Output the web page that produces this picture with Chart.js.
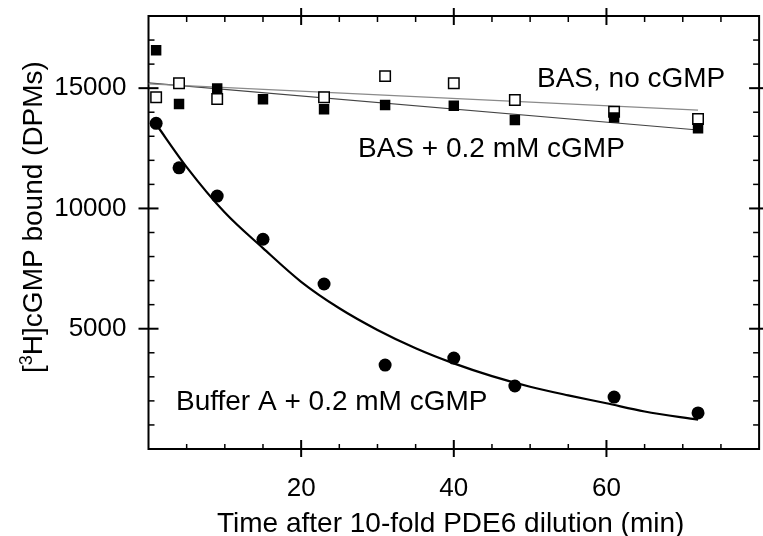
<!DOCTYPE html>
<html>
<head>
<meta charset="utf-8">
<script src="https://cdn.jsdelivr.net/npm/chart.js@4.4.0/dist/chart.umd.min.js"></script>
<style>
  html, body { margin: 0; padding: 0; background: #fff; overflow: hidden; }
  #wrap { width: 768px; height: 536px; }
</style>
</head>
<body>
<div id="wrap"><canvas id="c"></canvas></div>
<script>
// Sample times (min) for the measured points.
const timeMin = [1, 4, 9, 15, 23, 31, 40, 48, 61, 72];
// [3H]cGMP bound (DPMs).
const bufferA = [13540, 11690, 10515, 8720, 6860, 3490, 3780, 2620, 2160, 1500];
const basCgmp = [16580, 14340, 14990, 14535, 14120, 14300, 14270, 13675, 13785, 13330];
const basNoCgmp = [14620, 15200, 14550, null, 14620, 15500, 15200, 14505, 14020, 13715];

// Fitted decay curve for Buffer A.
const fitTime = [1, 5, 10, 15, 20, 25, 30, 35, 40, 45, 50, 55, 60, 65, 72];
const fitBufferA = [13500, 11720, 9830, 8350, 6950, 5850, 4950, 4190, 3560, 3030, 2590, 2230, 1900, 1560, 1220];

// Straight fits for the BAS series.
const lineTime = [0, 72];
const basNoCgmpFit = [15180, 14090];
const basCgmpFit = [15220, 13260];

const xTicks = [20, 40, 60];
const yTicks = [5000, 10000, 15000];

const FONT = '"Liberation Sans", Arial, Helvetica, sans-serif';
const pts = (xs, ys) => xs.map((x, i) => ({ x, y: ys[i] })).filter((p) => p.y !== null);

// Box frame with in/out ticks on all four sides, plus the text labels.
const framePlugin = {
  id: "frame",
  beforeDatasetsDraw(chart) {
    const { ctx, chartArea: a, scales: { x, y } } = chart;
    ctx.save();
    ctx.strokeStyle = "#000";
    ctx.lineWidth = 2;
    ctx.strokeRect(a.left, a.top, a.right - a.left, a.bottom - a.top);

    const line = (x1, y1, x2, y2, w) => {
      ctx.lineWidth = w;
      ctx.beginPath();
      ctx.moveTo(x1, y1);
      ctx.lineTo(x2, y2);
      ctx.stroke();
    };
    for (let v = 1000; v < 18000; v += 1000) {
      const py = y.getPixelForValue(v);
      if (yTicks.includes(v)) {
        line(a.left - 10, py, a.left + 10, py, 2);
        line(a.right - 10, py, a.right + 10, py, 2);
      } else {
        line(a.left, py, a.left + 6, py, 1.5);
        line(a.right - 6, py, a.right, py, 1.5);
      }
    }
    for (let v = 5; v < 80; v += 5) {
      const px = x.getPixelForValue(v);
      if (xTicks.includes(v)) {
        line(px, a.bottom - 9, px, a.bottom + 8, 2);
        line(px, a.top - 8, px, a.top + 9, 2);
      } else {
        line(px, a.bottom - 5, px, a.bottom, 1.5);
        line(px, a.top, px, a.top + 6, 1.5);
      }
    }
    ctx.restore();
  },
  afterDraw(chart) {
    const { ctx } = chart;
    ctx.save();
    ctx.fillStyle = "#000";
    ctx.textBaseline = "alphabetic";
    ctx.textAlign = "left";
    ctx.font = "28px " + FONT;
    ctx.fillText("BAS, no cGMP", 537, 87);
    ctx.fillText("BAS + 0.2 mM cGMP", 358, 157);
    ctx.fillText("Buffer A + 0.2 mM cGMP", 176, 410);
    ctx.fillText("Time after 10-fold PDE6 dilution (min)", 217, 532);

    // rotated y title with superscript 3
    const big = "28px " + FONT, small = "18px " + FONT;
    ctx.font = big;
    const w1 = ctx.measureText("[").width;
    const w3 = ctx.measureText("H]cGMP bound (DPMs)").width;
    ctx.font = small;
    const w2 = ctx.measureText("3").width;
    ctx.translate(42, 217);
    ctx.rotate(-Math.PI / 2);
    let cx = -(w1 + w2 + w3) / 2;
    ctx.font = big;
    ctx.fillText("[", cx, 0);
    cx += w1;
    ctx.font = small;
    ctx.fillText("3", cx, -10);
    cx += w2;
    ctx.font = big;
    ctx.fillText("H]cGMP bound (DPMs)", cx, 0);
    ctx.restore();
  },
};

new Chart(document.getElementById("c"), {
  type: "scatter",
  data: {
    datasets: [
      {
        label: "Buffer A + 0.2 mM cGMP",
        data: pts(timeMin, bufferA),
        pointStyle: "circle",
        pointRadius: 6.5,
        backgroundColor: "#000",
        borderColor: "#000",
        borderWidth: 0,
      },
      {
        label: "BAS + 0.2 mM cGMP",
        data: pts(timeMin, basCgmp),
        pointStyle: "rect",
        pointRadius: 7.4,
        backgroundColor: "#000",
        borderColor: "#000",
        borderWidth: 0,
      },
      {
        label: "BAS, no cGMP",
        data: pts(timeMin, basNoCgmp),
        pointStyle: "rect",
        pointRadius: 7.4,
        backgroundColor: "#fff",
        borderColor: "#000",
        borderWidth: 1.5,
      },
      {
        type: "line",
        label: "Buffer A fit",
        data: pts(fitTime, fitBufferA),
        borderColor: "#000",
        borderWidth: 2.2,
        pointRadius: 0,
        cubicInterpolationMode: "monotone",
        fill: false,
      },
      {
        type: "line",
        label: "BAS, no cGMP fit",
        data: pts(lineTime, basNoCgmpFit),
        borderColor: "#8a8a8a",
        borderWidth: 1.2,
        pointRadius: 0,
        fill: false,
      },
      {
        type: "line",
        label: "BAS + cGMP fit",
        data: pts(lineTime, basCgmpFit),
        borderColor: "#444",
        borderWidth: 1.2,
        pointRadius: 0,
        fill: false,
      },
    ],
  },
  options: {
    responsive: true,
    maintainAspectRatio: false,
    animation: false,
    layout: { padding: { top: 16, right: 2.5, bottom: 0, left: 0 } },
    plugins: { legend: { display: false }, tooltip: { enabled: false } },
    scales: {
      x: {
        type: "linear",
        min: 0,
        max: 80,
        afterBuildTicks: (s) => { s.ticks = xTicks.map((v) => ({ value: v })); },
        afterFit: (s) => { s.height = 87; s.paddingLeft = 0; s.paddingRight = 0; },
        grid: { display: false, drawTicks: false },
        border: { display: false },
        ticks: { padding: 24, color: "#000", font: { family: FONT, size: 26 } },
      },
      y: {
        type: "linear",
        min: 0,
        max: 18000,
        afterBuildTicks: (s) => { s.ticks = yTicks.map((v) => ({ value: v })); },
        afterFit: (s) => { s.width = 148.5; s.paddingTop = 0; s.paddingBottom = 0; },
        grid: { display: false, drawTicks: false },
        border: { display: false },
        ticks: {
          padding: 22,
          color: "#000",
          font: { family: FONT, size: 26 },
          callback: (v) => String(v),
        },
      },
    },
  },
  plugins: [framePlugin],
});
</script>
</body>
</html>
